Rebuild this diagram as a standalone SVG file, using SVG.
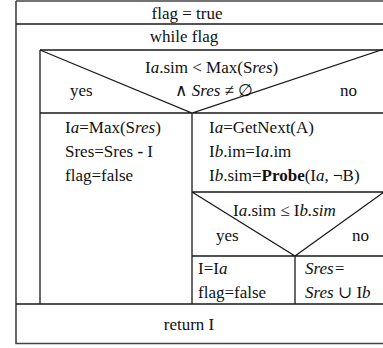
<svg xmlns="http://www.w3.org/2000/svg" width="383" height="348" viewBox="0 0 383 348">
  <style>
    .ln { stroke: #1a1a1a; stroke-width: 1.3; fill: none; }
    .frame { stroke: #444; stroke-width: 1.6; fill: none; }
    .t text { font-size: 17px; fill: #111; }
    .c { text-anchor: middle; }
    .i { font-style: italic; }
    .b { font-weight: bold; }
  </style>
  <rect width="383" height="348" fill="#fff"/>

  <!-- structure lines of the chart -->
  <g id="connectors">
    <path class="frame" d="M16 1 H384 M16 1 V343.5 H384"/>
    <path class="ln" d="M16 24 H384"/>
    <!-- loop body -->
    <path class="ln" d="M40 50 H384 M40 50 V304 M16 304 H384"/>
    <!-- outer condition -->
    <path class="ln" d="M40 50 L192 113 L384 49 M40 113 H384 M192 113 V304"/>
    <!-- inner condition -->
    <path class="ln" d="M192 192 H384 M192 192 L295 256 L384 192 M192 256 H384 M295 256 V304"/>
  </g>

  <g class="t" font-family="Liberation Serif, DejaVu Serif, serif">
  <g id="init">
    <text class="c" x="187" y="19">flag = true</text>
  </g>
  <g id="loop">
    <text class="c" x="184" y="42">while flag</text>
  </g>
  <g id="cond-outer">
    <text x="145" y="73">I<tspan class="i">a</tspan>.sim &lt; Max(S<tspan class="i">res</tspan>)</text>
    <text x="175" y="96">∧ <tspan class="i">Sres</tspan> ≠ ∅</text>
    <text x="70" y="96">yes</text>
    <text x="340" y="96">no</text>
  </g>
  <g id="branch-yes">
    <text x="65" y="133">I<tspan class="i">a</tspan>=Max(S<tspan class="i">res</tspan>)</text>
    <text x="65" y="157">Sres=Sres <tspan class="b">-</tspan> I</text>
    <text x="65" y="181">flag=false</text>
  </g>
  <g id="branch-no">
    <text x="209" y="133">I<tspan class="i">a</tspan>=GetNext(A)</text>
    <text x="209" y="157">I<tspan class="i">b</tspan>.im=I<tspan class="i">a</tspan>.im</text>
    <text x="209" y="181">I<tspan class="i">b</tspan>.sim=<tspan class="b">Probe</tspan>(I<tspan class="i">a</tspan>, ¬B)</text>
  </g>
  <g id="cond-inner">
    <text x="233" y="216">I<tspan class="i">a</tspan>.sim ≤ I<tspan class="i">b.sim</tspan></text>
    <text x="216" y="241">yes</text>
    <text x="352" y="241">no</text>
  </g>
  <g id="inner-yes">
    <text x="198" y="274">I=I<tspan class="i">a</tspan></text>
    <text x="198" y="298">flag=false</text>
  </g>
  <g id="inner-no">
    <text x="305" y="274" class="i">Sres=</text>
    <text x="305" y="298"><tspan class="i">Sres</tspan> ∪ I<tspan class="i">b</tspan></text>
  </g>
  <g id="result">
    <text class="c" x="189" y="330">return I</text>
  </g>
  </g>
</svg>
